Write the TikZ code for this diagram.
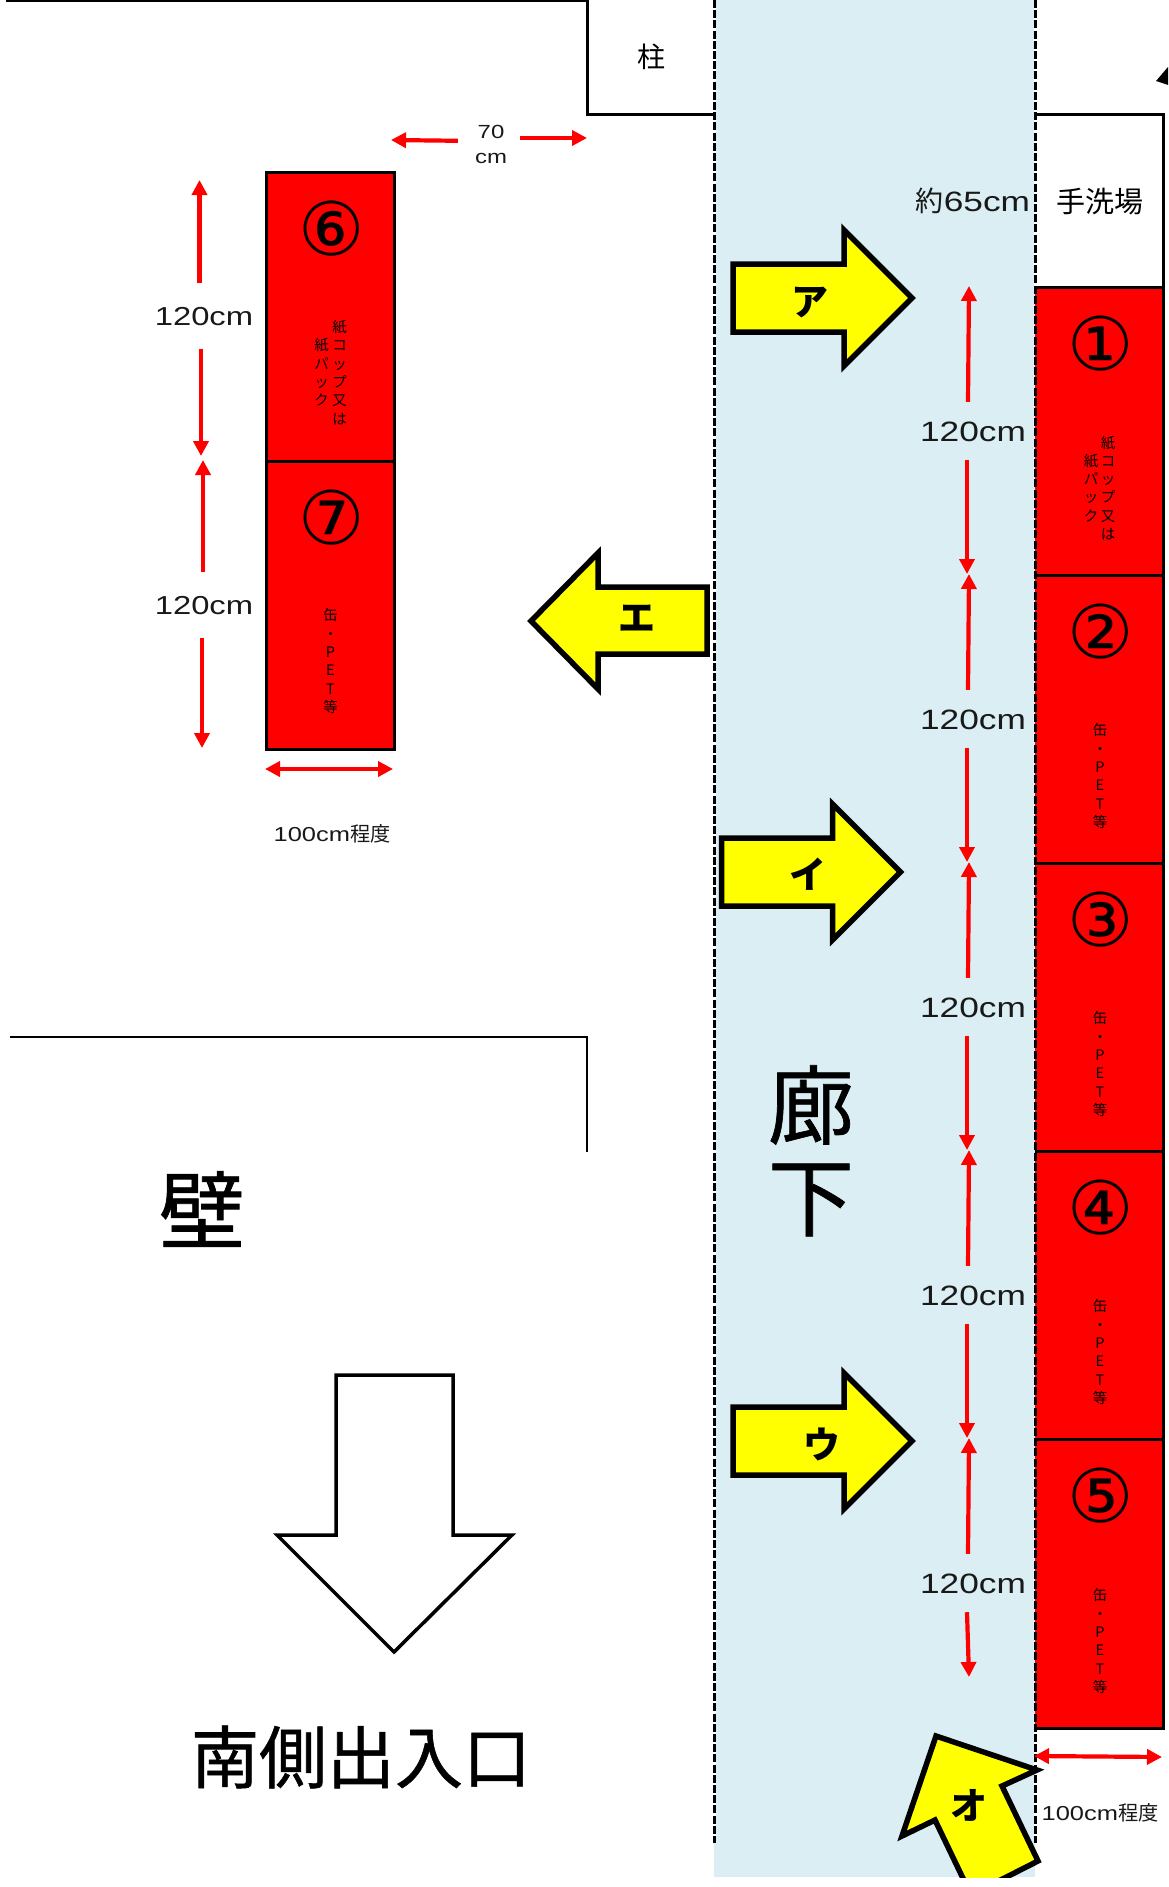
\documentclass[tikz,border=0pt]{standalone}
\usepackage{fontspec}
\usetikzlibrary{arrows.meta}
\setmainfont{Liberation Sans}
\newfontfamily\jp{Noto Sans CJK JP}
\newfontfamily\jpb[FakeBold=0.8]{Noto Sans CJK JP}
\newfontfamily\wide[FakeStretch=1.26]{Liberation Sans}
\newfontfamily\circfont{DejaVu Sans}
\newcommand{\fsz}[1]{\fontsize{#1}{#1}\selectfont}
\definecolor{corridor}{HTML}{DAEEF3}
\definecolor{fullred}{RGB}{255,0,0}
\definecolor{fullyellow}{RGB}{255,255,0}
\tikzset{
  redarrow/.style={draw=fullred,line width=4.2pt,-{Triangle[width=15pt,length=15pt]}},
  reddouble/.style={draw=fullred,line width=4.2pt,{Triangle[width=15pt,length=15pt]}-{Triangle[width=15pt,length=15pt]}},
  dimlabel/.style={inner sep=0pt,minimum height=58pt,font=\wide\fsz{28},text=black!90},
  dimlabelL/.style={inner sep=0pt,minimum height=65pt,font=\wide\fsz{26},text=black!90},
  smallcap/.style={inner sep=0pt,font=\jp\fsz{20.2},text=black!90},
  bay/.style={draw=black,fill=fullred,line width=3pt},
  numeral/.style={inner sep=0pt,font=\circfont\fsz{74}},
  stack/.style={inner sep=0pt,align=center,font=\jp\fsz{14.5},execute at begin node={\setlength{\baselineskip}{18.3pt}}},
  yarrow/.style={draw=black,fill=fullyellow,line width=5.5pt,miter limit=10},
  ylabel/.style={inner sep=0pt,font=\jp\bfseries\fsz{37}},
  bigtext/.style={inner sep=0pt,font=\jpb\fsz{86}},
}
\begin{document}
\begin{tikzpicture}[x=1pt,y=-1pt]
\useasboundingbox (0,0) rectangle (1168,1887);
\fill[white] (0,0) rectangle (1168,1887);
% corridor
\fill[corridor] (714,0) rectangle (1035,1877);
% walls
\draw[line width=2.5pt] (6,1) -- (587,1);
\draw[line width=3pt] (587,0) -- (587,114) -- (714,114);
\draw[line width=2.5pt] (10,1037) -- (587,1037) -- (587,1152);
\fill[black] (1156,81) -- (1168,67) -- (1168,85) -- cycle;
% wash basin
\draw[line width=3pt] (1035,114) -- (1163,114) -- (1163,288);
\node[inner sep=0pt,font=\jp\fsz{29}] (wash) at (1100,202) {手洗場};
\node[inner sep=0pt,font=\jp\fsz{28}] (pillar) at (651,57) {柱};
% right bays
\foreach \n/\t in {1/287,2/575,3/863,4/1151,5/1439}{
  \fill[fullred] (1035,\t) rectangle (1163,\t+289);
  \draw[line width=3pt] (1035,\t) -- (1163,\t) -- (1163,\t+289);
}
\draw[line width=3.6pt] (1035,1728.5) -- (1164.5,1728.5);
\node[numeral] (n1) at (1101,344) {①};
\node[numeral] (n2) at (1101,632) {②};
\node[numeral] (n3) at (1101,920) {③};
\node[numeral] (n4) at (1101,1208) {④};
\node[numeral] (n5) at (1101,1496) {⑤};
\node[stack] (c1a) at (1108,488) {紙\\コ\\ッ\\プ\\又\\は};
\node[stack] (c1b) at (1091,488) {紙\\パ\\ッ\\ク};
\node[stack] (c2) at (1100,776) {缶\\・\\P\\E\\T\\等};
\node[stack] (c3) at (1100,1064) {缶\\・\\P\\E\\T\\等};
\node[stack] (c4) at (1100,1352) {缶\\・\\P\\E\\T\\等};
\node[stack] (c5) at (1100,1641) {缶\\・\\P\\E\\T\\等};
% corridor dashed edges
\foreach \x in {1035}{
  \draw[white,line width=3pt] (\x,0) -- (\x,287);
  \draw[white,line width=3pt] (\x,1728) -- (\x,1843);
  \draw[black,line width=3pt,dash pattern=on 8pt off 2.2pt] (\x,0) -- (\x,1843);
}
\draw[white,line width=3pt] (714.5,0) -- (714.5,1843);
\draw[black,line width=3pt,dash pattern=on 8pt off 2.2pt] (714.5,0) -- (714.5,1843);
% left bays
\draw[bay] (266.5,172) rectangle (394,461);
\draw[bay] (266.5,461) rectangle (394,749.5);
\node[numeral] (n6) at (332,229) {⑥};
\node[numeral] (n7) at (332,517.5) {⑦};
\node[stack] (c6a) at (339.5,372.5) {紙\\コ\\ッ\\プ\\又\\は};
\node[stack] (c6b) at (321.5,372.5) {紙\\パ\\ッ\\ク};
\node[stack] (c7) at (330.5,661) {缶\\・\\P\\E\\T\\等};
% right dimensions
\node[dimlabel,font=\jp\fsz{28}] (d0) at (973,201) {約{\wide 65cm}};
\coordinate (u1) at (969,286); \coordinate (v1) at (967,574);
\coordinate (u2) at (969,574); \coordinate (v2) at (967,862);
\coordinate (u3) at (969,862); \coordinate (v3) at (967,1150);
\coordinate (u4) at (969,1150); \coordinate (v4) at (967,1438);
\coordinate (u5) at (969,1438); \coordinate (v5) at (969,1677);
\node[dimlabel] (d1) at (973,432) {120cm};
\node[dimlabel] (d2) at (973,720) {120cm};
\node[dimlabel] (d3) at (973,1008) {120cm};
\node[dimlabel] (d4) at (973,1296) {120cm};
\node[dimlabel] (d5) at (973,1584) {120cm};
\foreach \i in {1,...,5}{
  \draw[redarrow] ([xshift=-5pt,yshift=1pt]d\i.north) -- (u\i);
  \draw[redarrow] ([xshift=-6pt,yshift=1pt]d\i.south) -- (v\i);
}
% left dimensions
\coordinate (u6) at (199.5,180); \coordinate (v6) at (201,456);
\coordinate (u7) at (203,460); \coordinate (v7) at (202,748);
\node[dimlabelL] (d6) at (204,317) {120cm};
\node[dimlabelL] (d7) at (204,606) {120cm};
\draw[redarrow] ([xshift=-4.5pt,yshift=1pt]d6.north) -- (u6);
\draw[redarrow] ([xshift=-3pt,yshift=1pt]d6.south) -- (v6);
\draw[redarrow] ([xshift=-1pt,yshift=1pt]d7.north) -- (u7);
\draw[redarrow] ([xshift=-2pt,yshift=1pt]d7.south) -- (v7);
% 70 cm
\node[inner sep=0pt,align=center,font=\wide\fsz{19},text=black!90,minimum width=62pt,execute at begin node={\setlength{\baselineskip}{25pt}}] (d70) at (491,144) {70\\cm};
\coordinate (l70) at (391,140); \coordinate (r70) at (587,138);
\draw[redarrow] ([xshift=-2pt,yshift=3.2pt]d70.west) -- (l70);
\draw[redarrow] ([xshift=-2pt,yshift=6pt]d70.east) -- (r70);
% width dims
\coordinate (wl1) at (265,769); \coordinate (wr1) at (393,769);
\draw[reddouble] (wl1) -- (wr1);
\node[smallcap] (w1) at (332,834) {{\wide 100cm}程度};
\coordinate (wl2) at (1034,1756); \coordinate (wr2) at (1162,1757);
\draw[reddouble] (wl2) -- (wr2);
\node[smallcap] (w2) at (1100,1813) {{\wide 100cm}程度};
% yellow arrows
\draw[yarrow] (733,264) -- (844,264) -- (844,230) -- (912,298) -- (844,366) -- (844,332) -- (733,332) -- cycle;
\node[ylabel] (ya) at (810,303) {ア};
\draw[yarrow] (721.5,838) -- (832.5,838) -- (832.5,804) -- (900.5,872) -- (832.5,940) -- (832.5,906) -- (721.5,906) -- cycle;
\node[ylabel] (yi) at (808,874) {イ};
\draw[yarrow] (733,1407) -- (844,1407) -- (844,1373) -- (912,1441) -- (844,1509) -- (844,1475) -- (733,1475) -- cycle;
\node[ylabel] (yu) at (822,1444) {ウ};
\draw[yarrow] (707,587) -- (598,587) -- (598,553) -- (531,621) -- (598,689) -- (598,654) -- (707,654) -- cycle;
\node[ylabel] (ye) at (637,618) {エ};
\begin{scope}
\clip (0,0) rectangle (1168,1877);
\draw[yarrow] (936,1736) -- (1037,1770) -- (1002,1786) -- (1038,1861) -- (971,1895) -- (935,1820) -- (902,1836) -- cycle;
\end{scope}
\node[ylabel] (yo) at (969,1805) {オ};
% big text
\node[bigtext] (ro) at (811,1105) {廊};
\node[bigtext] (ka) at (811,1200) {下};
\node[bigtext] (kabe) at (202,1209) {壁};
\draw[line width=3.5pt,fill=white] (336,1375) -- (453,1375) -- (453,1535) -- (512,1535) -- (394,1652) -- (277,1535) -- (336,1535) -- cycle;
\node[inner sep=0pt,font=\jpb\fsz{68}] (south) at (361,1757) {南側出入口};
\end{tikzpicture}
\end{document}
